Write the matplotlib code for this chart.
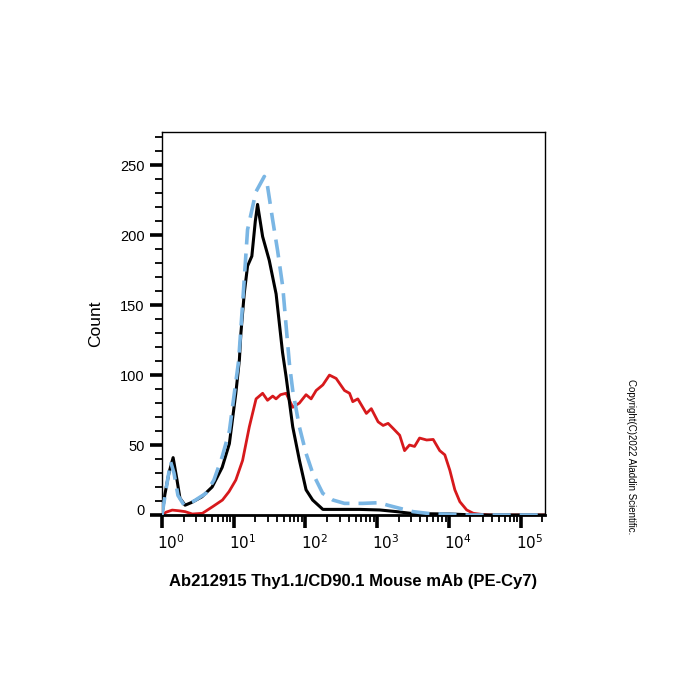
import numpy as np
import matplotlib
matplotlib.use('Agg')
import matplotlib.pyplot as plt
from matplotlib.ticker import LogLocator, MultipleLocator, FixedLocator
from matplotlib.transforms import ScaledTranslation

plt.rcParams['font.family'] = ['Liberation Sans', 'DejaVu Sans']

# histogram traces (fluorescence intensity, count)
black_x = [1.0, 1.10, 1.25, 1.43, 1.62, 1.78, 2.1, 2.6, 3.6, 5.0, 6.9, 8.7, 10.7, 12.0,
           12.6, 14.0, 15.6, 17.9, 20.0, 21.5, 25.3, 31.3, 39.0, 48.0, 53.7, 66.5, 82.5,
           102, 126, 175, 570, 1080, 1860, 3150, 10300, 23000, 219000]
black_y = [0, 15, 30, 41, 25, 12, 7, 9, 13, 20, 34, 51, 87, 111,
           130, 158, 178, 185, 210, 222, 199, 182, 158, 116, 99, 63, 39,
           18, 10.7, 4, 4, 3.6, 2.4, 1, 0.7, 0, 0]

blue_x = [1.0, 1.17, 1.32, 1.47, 1.67, 2.03, 2.8, 4.1, 5.3, 6.9, 8.7, 10.2, 11.7, 13.3,
          15.6, 20.4, 26.7, 29.4, 34.9, 40.9, 48.3, 53.8, 59.8, 66.5, 82.3, 102, 126,
          174, 241, 350, 630, 1070, 1400, 2050, 3150, 5400, 10300, 19600, 219000]
blue_y = [0, 22, 38, 30, 14, 7, 10, 15.5, 25, 41.6, 60, 87, 110, 151,
          204, 231, 242, 236, 211, 189, 163, 135, 108, 89, 63, 44, 30,
          15.5, 10.7, 8.3, 8.3, 8.8, 7, 4.8, 2.4, 1, 0.5, 0, 0]

red_x = [1.0, 1.14, 1.39, 1.73, 2.1, 2.65, 3.66, 5.1, 6.97, 8.6, 10.7, 13.3, 16.5, 20.5,
         25.3, 29.6, 35, 38.9, 45, 53.8, 66.5, 82.3, 102, 120, 141, 175, 216, 268, 350,
         412, 457, 537, 707, 828, 1030, 1210, 1420, 1660, 2060, 2410, 2820, 3320, 3900,
         4900, 6040, 7450, 8770, 10300, 12100, 14200, 17700, 21900, 27800, 37000, 219000]
red_y = [0, 2, 3.5, 3, 2.4, 0.7, 1.2, 6, 10.7, 16.7, 25, 39, 63, 83,
         87, 82, 85, 83, 86, 87, 77, 80, 86, 83, 89, 93, 100, 97.6, 89,
         87, 81, 83, 72.6, 76, 66.6, 64, 65.5, 62, 57, 46, 50, 49, 55,
         53.6, 54, 46, 43, 32, 18, 9.5, 3.6, 1.2, 0.5, 0, 0]

y_ticks = [0, 50, 100, 150, 200, 250]
x_decades = [1, 10, 100, 1000, 10000, 100000]
x_labels = ['$10^0$', '$10^1$', '$10^2$', '$10^3$', '$10^4$', '$10^5$']

fig = plt.figure(figsize=(7, 7), dpi=100)
ax = fig.add_axes([0.2314, 0.2643, 0.5472, 0.5476])

ax.plot(red_x, red_y, color='#d7191c', lw=2.0, zorder=2)
ax.plot(black_x, black_y, color='black', lw=2.2, zorder=3)
ax.plot(blue_x, blue_y, color='#7ab6e4', lw=2.6, dashes=(5, 2.5), zorder=4)

ax.set_xscale('log')
ax.set_xlim(1, 10 ** 5.34)
ax.set_ylim(0, 274)

ax.xaxis.set_major_locator(FixedLocator(x_decades))
ax.set_xticklabels(x_labels)
ax.xaxis.set_minor_locator(LogLocator(base=10, subs=np.arange(2, 10), numticks=20))
ax.yaxis.set_major_locator(FixedLocator(y_ticks))
ax.set_yticklabels([str(v) for v in y_ticks])
ax.yaxis.set_minor_locator(MultipleLocator(10))

ax.tick_params(which='major', length=9, width=2.6, labelsize=10.5, direction='out')
ax.tick_params(which='minor', length=5, width=1.3, direction='out')
ax.tick_params(axis='x', which='major', pad=4, labelsize=11)

for sp in ax.spines.values():
    sp.set_linewidth(1.0)
ax.spines['bottom'].set_linewidth(2.0)

# labels in the reference sit a bit right of the decade ticks
for lab in ax.get_xticklabels():
    lab.set_transform(lab.get_transform() + ScaledTranslation(0.09, 0, fig.dpi_scale_trans))
ylabs = ax.get_yticklabels()
ylabs[0].set_transform(ylabs[0].get_transform() + ScaledTranslation(0, 0.05, fig.dpi_scale_trans))

ax.set_ylabel('Count', fontsize=12.5, labelpad=12)
ax.set_xlabel('Ab212915 Thy1.1/CD90.1 Mouse mAb (PE-Cy7)', fontsize=12, fontweight='bold', labelpad=16)

fig.text(0.901, 0.347, 'Copyright(C)2022 Aladdin Scientific.', rotation=-90,
         fontsize=7, ha='center', va='center')

fig.savefig('out.png', dpi=100)
